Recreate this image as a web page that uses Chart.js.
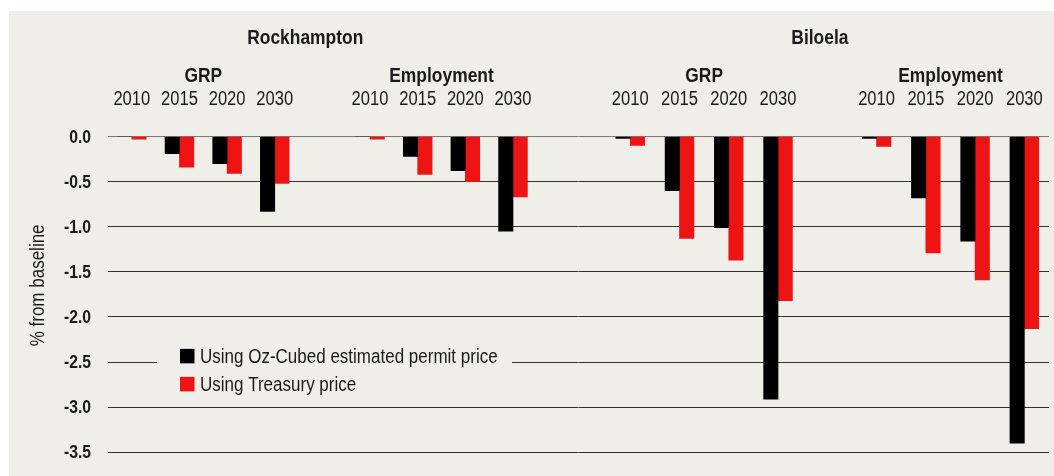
<!DOCTYPE html>
<html><head><meta charset="utf-8">
<script src="https://cdn.jsdelivr.net/npm/chart.js@4.4.1/dist/chart.umd.min.js"></script>
<style>html,body{margin:0;padding:0;background:#fff;} #wrap{position:relative;width:1054px;height:476px;}</style>
</head><body><div id="wrap"><canvas id="c"></canvas></div>
<script>
// ---- data ----
const regions = ['Rockhampton', 'Biloela'];
const measures = ['GRP', 'Employment'];
const years = ['2010', '2015', '2020', '2030'];
const seriesNames = ['Using Oz-Cubed estimated permit price', 'Using Treasury price'];
const seriesColors = ['#000000', '#EE1414'];

const rockGrpOz  = [0.00, -0.19, -0.30, -0.83];
const rockGrpTsy = [-0.03, -0.34, -0.41, -0.52];
const rockEmpOz  = [0.00, -0.22, -0.38, -1.05];
const rockEmpTsy = [-0.03, -0.42, -0.50, -0.67];
const bilGrpOz   = [-0.02, -0.60, -1.01, -2.91];
const bilGrpTsy  = [-0.10, -1.13, -1.37, -1.82];
const bilEmpOz   = [-0.02, -0.68, -1.16, -3.40];
const bilEmpTsy  = [-0.11, -1.29, -1.59, -2.13];

const yMin = -3.5, yMax = 0, yStep = 0.5;
const yTitle = '% from baseline';

// ---- helpers ----
const FONT = "'Liberation Sans', Arial, sans-serif";
const NARROW = 0.85;   // horizontal squeeze to imitate a narrow face
const TEXT = '#1a1a1a';
const PANEL = '#EFEEE9';
const slotsPerMeasure = years.length + 1;
const regionTitleAnchor = [3.64, 3.85];   // title centre, in slot units of each region's scale

function slotPoints(grp, emp) {
  const pts = [];
  [grp, emp].forEach((arr, m) => arr.forEach((v, i) => pts.push({ x: m * slotsPerMeasure + i, y: v })));
  return pts;
}

function drawText(c, txt, x, y, font, align, baseline, rot) {
  c.save();
  c.translate(x, y);
  if (rot) c.rotate(rot);
  c.scale(NARROW, 1);
  c.font = font;
  c.textAlign = align || 'center';
  c.textBaseline = baseline || 'alphabetic';
  c.fillText(txt, 0, 0);
  c.restore();
}

// vertical bars; each region has its own x scale
const barBase = { indexAxis: 'x', borderWidth: 0, barThickness: 14.4 };
const datasets = [
  { ...barBase, label: seriesNames[0], data: slotPoints(rockGrpOz, rockEmpOz), backgroundColor: seriesColors[0], xAxisID: 'xR' },
  { ...barBase, label: seriesNames[1], data: slotPoints(rockGrpTsy, rockEmpTsy), backgroundColor: seriesColors[1], xAxisID: 'xR' },
  { ...barBase, label: seriesNames[0], data: slotPoints(bilGrpOz, bilEmpOz), backgroundColor: seriesColors[0], xAxisID: 'xB' },
  { ...barBase, label: seriesNames[1], data: slotPoints(bilGrpTsy, bilEmpTsy), backgroundColor: seriesColors[1], xAxisID: 'xB' }
];

const panelPlugin = {
  id: 'panel',
  beforeDraw(chart) {
    const c = chart.ctx;
    c.save();
    c.fillStyle = PANEL;
    c.fillRect(9, 11, chart.width - 9, chart.height - 11);
    c.restore();
  }
};

const labelsPlugin = {
  id: 'labels',
  afterDraw(chart) {
    const c = chart.ctx;
    const axes = [chart.scales.xR, chart.scales.xB];
    const ys = chart.scales.y;
    c.save();
    c.fillStyle = TEXT;
    regions.forEach((r, ri) => {
      const ax = axes[ri];
      drawText(c, r, ax.getPixelForValue(regionTitleAnchor[ri]), 44, `bold 20.5px ${FONT}`);
      measures.forEach((m, mi) => {
        drawText(c, m, ax.getPixelForValue(mi * slotsPerMeasure + (years.length - 1) / 2), 82, `bold 20.5px ${FONT}`);
        years.forEach((y, yi) => drawText(c, y, ax.getPixelForValue(mi * slotsPerMeasure + yi), 105, `19.5px ${FONT}`));
      });
    });
    // y tick labels from the scale's ticks
    ys.ticks.forEach(t => {
      const v = Math.abs(t.value) < 1e-9 ? 0 : t.value;
      drawText(c, v.toFixed(1), chart.chartArea.left - 17, ys.getPixelForValue(t.value) + 1, `bold 18.5px ${FONT}`, 'right', 'middle');
    });
    // y-axis title
    drawText(c, yTitle, 38, ys.getPixelForValue(-1.65), `20px ${FONT}`, 'center', 'middle', -Math.PI / 2);
    // legend
    const lx = chart.chartArea.left;
    const rowY = ys.getPixelForValue(-2.5) - 6;
    c.fillStyle = PANEL;
    c.fillRect(lx + 49, rowY - 24, 355, 70);
    seriesNames.forEach((n, i) => {
      const cy = rowY + i * 28;
      c.fillStyle = seriesColors[i];
      c.fillRect(lx + 72, cy - 7.2, 14.5, 14.5);
      c.fillStyle = TEXT;
      drawText(c, n, lx + 92, cy + 1, `20px ${FONT}`, 'left', 'middle');
    });
    c.restore();
  }
};

new Chart(document.getElementById('c'), {
  type: 'bar',
  data: { datasets },
  plugins: [panelPlugin, labelsPlugin],
  options: {
    // chart-level index axis 'y' so the two region x scales are not treated as one multi-axis group
    indexAxis: 'y',
    responsive: true,
    maintainAspectRatio: false,
    animation: false,
    layout: { padding: { left: 9, right: 5, top: 136.5, bottom: 23.7 } },
    plugins: { legend: { display: false }, tooltip: { enabled: false }, title: { display: false } },
    scales: {
      xR: { type: 'linear', axis: 'x', display: false, offset: false, grid: { offset: false }, min: -0.5, max: 19.25 },
      xB: { type: 'linear', axis: 'x', display: false, offset: false, grid: { offset: false }, min: -10.6, max: 8.5 },
      y: {
        type: 'linear', axis: 'y', position: 'left',
        min: yMin, max: yMax, offset: false,
        ticks: { stepSize: yStep, display: false },
        grid: { offset: false, drawTicks: false, lineWidth: 1, color: ctx => (ctx.tick && ctx.tick.value === 0) ? '#7a7a7a' : '#333333' },
        border: { display: false },
        afterFit: s => { s.width = 99; }
      }
    }
  }
});
</script>
</body></html>
